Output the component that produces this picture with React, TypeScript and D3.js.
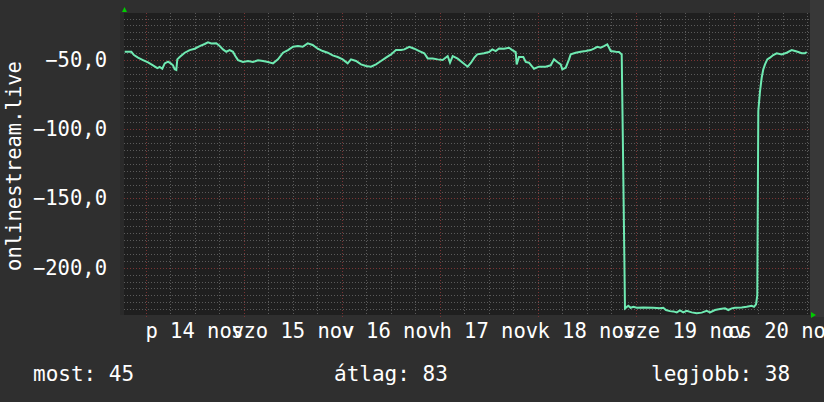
import React from "react";
import * as d3 from "d3";

// ---- data ----
const startTime = new Date(2014, 10, 13, 18, 40);
const spanHours = 168;

const hoursSinceStart = [
  0.17, 1.79, 2.45, 3.43, 4.65, 5.88, 7.1, 8.16, 8.74, 9.38, 9.97, 10.78, 11.44, 12.0, 12.42, 12.81, 13.05,
  13.64, 14.87, 16.09, 17.31, 18.54, 19.76, 20.57, 21.38, 22.6, 23.44, 24.24, 25.05, 25.88, 26.69, 27.26,
  27.92, 29.14, 30.37, 31.59, 32.82, 34.04, 35.27, 36.49, 37.71, 38.94, 40.16, 41.39, 42.61, 43.76, 44.99,
  46.21, 47.44, 48.66, 49.89, 51.11, 52.33, 53.56, 54.78, 55.59, 56.82, 58.04, 59.27, 60.49, 61.71, 62.94,
  64.16, 65.39, 66.61, 67.84, 68.65, 69.87, 71.09, 72.32, 73.54, 74.38, 75.6, 76.82, 78.05, 79.27, 79.84,
  80.5, 81.72, 82.95, 84.17, 84.98, 85.79, 86.52, 88.16, 89.39, 90.2, 91.03, 91.84, 93.06, 94.29, 95.09,
  95.93, 96.17, 96.73, 97.79, 98.38, 99.18, 100.41, 101.63, 103.27, 104.5, 105.31, 106.11, 106.95, 107.34,
  108.18, 108.98, 109.4, 110.62, 111.85, 113.07, 114.29, 115.1, 115.91, 116.74, 117.55, 118.36, 119.2,
  120.42, 121.22, 121.89, 122.2, 122.69, 123.5, 124.09, 124.73, 125.56, 127.18, 129.62, 131.27, 132.07,
  132.73, 133.71, 134.53, 135.36, 136.16, 136.97, 137.8, 139.03, 140.25, 141.48, 142.7, 143.51, 144.73,
  145.96, 147.18, 147.99, 148.82, 149.63, 151.27, 152.49, 153.72, 154.29, 154.78, 155.09, 155.34, 155.76,
  156.17, 156.56, 156.98, 157.54, 158.2, 159.0, 159.84, 161.06, 162.29, 163.52, 164.33, 165.13, 165.97,
  166.78, 167.19,
];

const pingValues = [
  -44, -44, -46.4, -48.3, -50, -51.7, -53.8, -55.8, -55, -56.3, -52.4, -51.2, -52.4, -53.8, -56.7, -57.2, -49.5,
  -47.8, -44.7, -42.8, -41.8, -39.9, -38.4, -37.2, -38, -37.9, -39.9, -42.3, -44, -42.8, -44, -47.1,
  -50, -51.4, -50.7, -51.4, -50.2, -50.7, -51.4, -52.4, -49.5, -44.7, -42.8, -40.4, -39.9, -40.4, -37.9,
  -39.1, -41.8, -43.5, -44.7, -46.6, -47.8, -49.5, -52.4, -49.5, -50.7, -53.1, -54.3, -54.8, -53.1, -50.7,
  -48.3, -45.9, -42.8, -42.8, -42.3, -40.4, -41.8, -43.5, -45.1, -48.8, -48.8, -49.5, -50, -47.1, -51.9,
  -47.1, -49, -51.9, -54.8, -51.9, -48.3, -45.9, -45.1, -44.2, -42.3, -43.5, -41.6, -41.8, -41.1, -42.8,
  -44.2, -53.1, -47.8, -47.8, -51.4, -51.9, -56.3, -54.8, -54.8, -53.8, -49.5, -51.4, -53.1, -56.7,
  -55.5, -49.5, -45.9, -44.7, -44, -43.5, -42.8, -41.8, -40.4, -41.1, -39.9, -38.6, -43.5,
  -44, -44.2, -45.9, -115, -229.4, -227.5, -229, -228.3, -229, -228.8, -229, -229.4, -229,
  -230.6, -231.4, -231.6, -232.3, -230.9, -232.3, -231.2, -232.3, -233, -232.5, -231.2, -232.3, -230.6,
  -229.9, -229.4, -230.6, -229.4, -229, -228.8, -228.3, -227.5, -228.3, -226.5, -220, -86.8, -72.4,
  -62.8, -56.7, -53.1, -49.5, -48.3, -46.4, -45.1, -45.9, -44.7, -42.8, -43.5, -44.2, -45.1,
  -45.1, -44.2,
];

const yDomain = [-234.2, -16.0];
const yTickValues = [-50, -100, -150, -200];
const dayLabels = ["p 14 nov", "szo 15 nov", "v 16 nov", "h 17 nov", "k 18 nov", "sze 19 nov", "cs 20 nov"];
const dayNumbers = [14, 15, 16, 17, 18, 19, 20];
const statLabels = ["most", "átlag", "legjobb"];
const statValues = [45, 83, 38];
const axisTitle = "onlinestream.live";

export default function App() {
  const W = 824;
  const H = 402;
  const plot = { left: 124, right: 810, top: 13, bottom: 315 };
  const font = "'DejaVu Sans Mono', monospace";

  const endTime = d3.timeHour.offset(startTime, spanHours);
  const x = d3.scaleTime().domain([startTime, endTime]).range([plot.left, plot.right]);
  const y = d3.scaleLinear().domain(yDomain).range([plot.bottom, plot.top]);

  const huLocale = d3.formatLocale({ decimal: ",", thousands: " ", grouping: [3], currency: ["", " Ft"] });
  const fmt = huLocale.format(".1f");

  const points = hoursSinceStart.map((h, i) => ({
    t: new Date(startTime.getTime() + h * 3600 * 1000),
    v: pingValues[i],
  }));
  const line = d3
    .line<{ t: Date; v: number }>()
    .x((d) => x(d.t))
    .y((d) => y(d.v))
    .curve(d3.curveLinear);

  const minorY = d3.range(-230, -15, 5).filter((v) => v % 50 !== 0);
  const sixHours = d3.timeHour.every(6)!.range(startTime, endTime).filter((d) => d.getHours() !== 0);
  const midnights = d3.timeDay.range(startTime, endTime);

  const statX = [33, 334, 651];

  return (
    <svg width={W} height={H} style={{ display: "block", position: "absolute", left: 0, top: 0 }}>
      <rect x={0} y={0} width={W} height={H} fill="#2f2f2f" />
      <rect x={plot.right} y={0} width={W - plot.right} height={plot.bottom + 2} fill="#383838" />
      <rect x={plot.left - 4} y={plot.top} width={4} height={plot.bottom - plot.top} fill="#2a2a2a" />
      <rect
        x={plot.left}
        y={plot.top}
        width={plot.right - plot.left}
        height={plot.bottom - plot.top}
        fill="#1f1f1f"
      />
      <defs>
        <clipPath id="plotclip">
          <rect x={plot.left} y={plot.top} width={plot.right - plot.left} height={plot.bottom - plot.top} />
        </clipPath>
      </defs>
      {/* minor grid */}
      <g stroke="#5a5a5a" strokeWidth={1} strokeDasharray="1,2">
        {minorY.map((v) => (
          <line key={"hy" + v} x1={plot.left} x2={plot.right} y1={Math.round(y(v)) + 0.5} y2={Math.round(y(v)) + 0.5} />
        ))}
        {sixHours.map((d) => (
          <line
            key={"vx" + d.getTime()}
            x1={Math.round(x(d)) + 0.5}
            x2={Math.round(x(d)) + 0.5}
            y1={plot.top}
            y2={plot.bottom}
          />
        ))}
      </g>
      {/* major grid */}
      <g stroke="#7a3434" strokeWidth={1} strokeDasharray="1,2">
        {yTickValues.map((v) => (
          <line key={"my" + v} x1={plot.left} x2={plot.right} y1={Math.round(y(v)) + 0.5} y2={Math.round(y(v)) + 0.5} />
        ))}
        {midnights.map((d) => (
          <line
            key={"mx" + d.getTime()}
            x1={Math.round(x(d)) + 0.5}
            x2={Math.round(x(d)) + 0.5}
            y1={plot.top}
            y2={plot.bottom + 3}
          />
        ))}
      </g>
      {/* data line */}
      <path
        d={line(points) ?? ""}
        fill="none"
        stroke="#6feab2"
        strokeWidth={2}
        strokeLinejoin="miter"
        clipPath="url(#plotclip)"
      />
      {/* arrows */}
      <polygon
        points={`${plot.left - 2},${plot.top - 1} ${plot.left + 3},${plot.top - 1} ${plot.left + 0.5},${plot.top - 6}`}
        fill="#00cc00"
      />
      <polygon
        points={`${plot.right + 1},${plot.bottom - 3} ${plot.right + 1},${plot.bottom + 3} ${plot.right + 6},${plot.bottom}`}
        fill="#00cc00"
      />
      {/* y tick labels */}
      <g fill="#ffffff" fontFamily={font} fontSize={20.5}>
        {yTickValues.map((v) => (
          <text key={"yl" + v} x={107} y={y(v)} textAnchor="end" dominantBaseline="central">
            {fmt(v)}
          </text>
        ))}
        <text
          transform={`translate(14, ${166}) rotate(-90)`}
          textAnchor="middle"
          dominantBaseline="central"
        >
          {axisTitle}
        </text>
        {dayNumbers.map((dn, i) => {
          const noon = new Date(2014, 10, dn, 12, 0);
          return (
            <text key={"xl" + dn} x={x(noon)} y={338} textAnchor="middle">
              {dayLabels[i]}
            </text>
          );
        })}
      </g>
      {/* stats */}
      <g fill="#ffffff" fontFamily={font} fontSize={21}>
        {statLabels.map((s, i) => (
          <text key={s} x={statX[i]} y={381}>
            {`${s}: ${statValues[i]}`}
          </text>
        ))}
      </g>
    </svg>
  );
}
